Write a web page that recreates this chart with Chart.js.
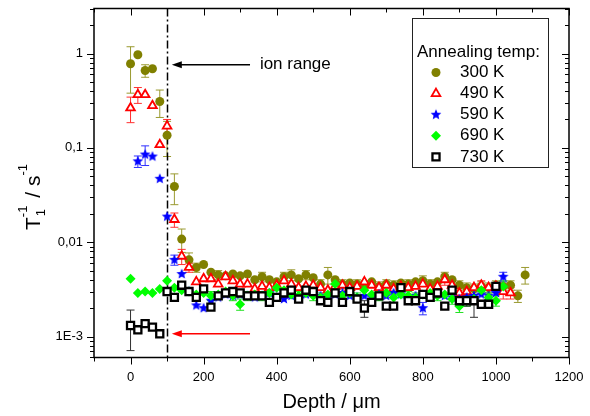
<!DOCTYPE html>
<html>
<head>
<meta charset="utf-8">
<script src="https://cdn.jsdelivr.net/npm/chart.js"></script>
<style>
html, body { margin: 0; padding: 0; background: #fff; }
</style>
</head>
<body>
<canvas id="c" width="590" height="416"></canvas>
<script>
// depth positions (µm), one measurement every 20 µm
const depth = [0,20,40,60,80,100,120,140,160,180,200,220,240,260,280,300,320,340,360,380,
  400,420,440,460,480,500,520,540,560,580,600,620,640,660,680,700,720,740,760,780,
  800,820,840,860,880,900,920,940,960,980,1000,1020,1040,1060,1080];

const seriesNames = ['300 K','490 K','590 K','690 K','730 K'];

// T1^-1 (s^-1) per annealing temperature, null = no point
const t300 = [0.78,0.97,0.66,0.69,0.31,0.136,0.039,0.0108,0.0065,0.0054,0.0058,0.0048,0.0045,0.0044,0.0046,0.0044,0.0046,0.0040,0.0043,0.0040,
  0.0038,0.0043,0.0045,0.0041,0.0045,0.0042,0.0036,0.0045,0.0040,0.0036,0.0037,0.0036,0.0035,0.0038,0.0034,0.0036,0.0035,0.0037,0.0036,0.0038,
  0.0039,0.0036,0.0038,0.0043,0.0040,0.0035,0.0033,0.0032,0.0034,0.0033,0.0035,0.0034,0.0035,0.0027,0.0045];
const e300 = [0.40,0.07,0.10,0.05,0.10,0.055,0.014,0.003,0.0012,0.0006,0.0005,0.0005,0.0005,0.0004,0.0005,0.0004,0.0005,0.0004,0.0005,0.0004,
  0.0004,0.0005,0.0006,0.0004,0.0005,0.0004,0.0004,0.0009,0.0004,0.0004,0.0004,0.0004,0.0004,0.0004,0.0004,0.0004,0.0004,0.0004,0.0004,0.0004,
  0.0005,0.0004,0.0004,0.0005,0.0004,0.0004,0.0004,0.0004,0.0004,0.0004,0.0004,0.0004,0.0004,0.0004,0.0009];

const t490 = [0.265,0.366,0.366,0.28,0.108,0.17,0.0174,0.0071,0.0054,0.0038,0.0041,0.0041,0.0036,0.0043,0.0039,0.0036,0.0036,0.0032,0.0034,0.0033,
  0.0035,0.0039,0.0036,0.0033,0.0034,0.0035,0.0033,0.0031,0.0034,0.0035,0.0033,0.0034,0.0038,0.0035,0.0033,0.0035,0.0032,0.0034,0.0033,0.0034,
  0.0036,0.0032,0.0034,0.0040,0.0035,0.0029,0.0030,0.0033,0.0035,0.0033,0.0034,0.0030,0.0029,null,null];
const e490 = [0.08,0.07,0.03,0.02,0.01,0.03,0.003,0.0013,0.0006,0.0004,0.0004,0.0004,0.0003,0.0004,0.0003,0.0003,0.0003,0.0003,0.0003,0.0003,
  0.0003,0.0004,0.0003,0.0003,0.0003,0.0003,0.0003,0.0003,0.0003,0.0003,0.0003,0.0003,0.0004,0.0003,0.0003,0.0003,0.0003,0.0003,0.0003,0.0003,
  0.0003,0.0003,0.0003,0.0005,0.0003,0.0003,0.0003,0.0003,0.0004,0.0003,0.0003,0.0005,0.0004,null,null];

const t590 = [null,0.072,0.085,0.081,0.047,0.0187,0.0065,0.0046,0.0030,0.00214,0.0020,0.0024,0.0026,0.0028,0.0027,0.0028,0.0027,0.0026,0.0027,0.0029,
  0.0026,0.0025,0.0027,0.0026,0.0028,0.0029,0.0027,0.0026,0.0028,0.0029,0.0027,0.0026,0.0027,0.0026,0.0028,0.0027,0.0029,0.0028,0.0026,0.0027,
  0.0020,0.0027,0.0028,0.0027,0.0026,0.0025,0.0026,0.0027,0.0028,0.0027,0.0029,0.0043,null,null,null];
const e590 = [null,0.01,0.02,0.008,0.004,0.002,0.0008,0.0005,0.0003,0.0002,0.0002,0.0002,0.0002,0.0002,0.0002,0.0002,0.0002,0.0002,0.0002,0.0002,
  0.0002,0.0002,0.0002,0.0002,0.0002,0.0002,0.0002,0.0002,0.0002,0.0002,0.0002,0.0002,0.0002,0.0002,0.0002,0.0002,0.0003,0.0002,0.0002,0.0002,
  0.0003,0.0002,0.0002,0.0002,0.0002,0.0002,0.0002,0.0002,0.0002,0.0002,0.0003,0.0005,null,null,null];

const t690 = [0.0041,0.0029,0.0030,0.0029,0.0032,0.0039,0.0033,0.0031,0.0030,0.0028,0.0029,0.0027,0.0028,0.0030,0.0027,0.0022,0.0027,0.0028,0.0027,0.0029,
  0.0033,0.0031,0.0028,0.0027,0.0029,0.0027,0.0026,0.0028,0.0036,0.0027,0.0029,0.0026,0.0031,0.0028,0.0027,0.0029,0.0026,0.0028,0.0027,0.0026,
  0.0028,0.0029,0.0027,0.0028,0.0025,0.0021,0.0024,0.0025,0.0031,0.0026,0.0024,0.0034,null,null,null];
const e690 = [0.0004,0.0003,0.0003,0.0003,0.0003,0.0003,0.0003,0.0003,0.0003,0.0003,0.0003,0.0003,0.0003,0.0003,0.0003,0.0003,0.0003,0.0003,0.0003,0.0003,
  0.0003,0.0003,0.0003,0.0003,0.0003,0.0003,0.0003,0.0003,0.0003,0.0003,0.0003,0.0003,0.0003,0.0003,0.0003,0.0003,0.0003,0.0003,0.0003,0.0003,
  0.0003,0.0003,0.0003,0.0003,0.0003,0.0003,0.0003,0.0003,0.0003,0.0003,0.0003,0.0005,null,null,null];

const t730 = [0.00131,0.00118,0.00137,0.00126,0.00107,0.0030,0.0026,0.0035,0.0030,0.0026,0.0032,0.00205,0.0027,0.0029,0.0030,0.0029,0.0027,0.0027,0.0027,0.0023,
  0.0026,0.0029,0.0031,0.0025,0.0031,0.0030,0.0024,0.0023,0.0029,0.0023,0.0030,0.0025,0.0020,0.0023,0.0027,0.0021,0.0021,0.0033,0.0024,0.0024,
  0.0028,0.0026,0.0029,0.0021,0.0031,0.0024,0.0024,0.0024,0.0022,0.0022,0.0034,null,null,null,null];
const e730 = [0.0006,0.0001,0.0001,0.0001,0.0001,0.0002,0.0002,0.0002,0.0002,0.0002,0.0002,0.0002,0.0002,0.0002,0.0002,0.0002,0.0002,0.0002,0.0002,0.0002,
  0.0002,0.0002,0.0002,0.0002,0.0002,0.0002,0.0002,0.0002,0.0002,0.0002,0.0002,0.0002,0.0004,0.0002,0.0002,0.0002,0.0002,0.0002,0.0002,0.0002,
  0.0002,0.0002,0.0002,0.0002,0.0002,0.0002,0.0003,0.0008,0.0002,0.0002,0.0003,null,null,null,null];

const xMajorTicks = [0,200,400,600,800,1000,1200];
const xTickLabels = ['0','200','400','600','800','1000','1200'];
const yMajorTicks = [0.001,0.01,0.1,1];
const yTickLabels = ['1E-3','0,01','0,1','1'];

const FONT = '"Liberation Sans", Arial, Helvetica, sans-serif';

function toPoints(vals, errs) {
  const pts = [];
  depth.forEach((d, i) => {
    if (vals[i] != null) pts.push({ x: d, y: vals[i], err: errs[i] || 0 });
  });
  return pts;
}

// filled five pointed star, chart.js 'star' is only an asterisk
function makeStar(color, r) {
  const c = document.createElement('canvas');
  const s = Math.ceil(r * 2) + 2;
  c.width = s; c.height = s;
  const g = c.getContext('2d');
  g.fillStyle = color;
  g.beginPath();
  for (let i = 0; i < 10; i++) {
    const a = -Math.PI / 2 + i * Math.PI / 5;
    const rr = i % 2 ? r * 0.45 : r;
    g.lineTo(s / 2 + rr * Math.cos(a), s / 2 + rr * Math.sin(a));
  }
  g.closePath();
  g.fill();
  return c;
}
const starImg = makeStar('#0000ff', 5.6);

const datasets = [
  { label: seriesNames[0], data: toPoints(t300, e300), pointStyle: 'circle', pointRadius: 4.5,
    backgroundColor: '#808000', borderColor: '#808000', borderWidth: 0, errColor: '#9a9a30', order: 4 },
  { label: seriesNames[1], data: toPoints(t490, e490), pointStyle: 'triangle', pointRadius: 5,
    backgroundColor: '#ffffff', borderColor: '#ff0000', borderWidth: 1.8, errColor: '#ff3030', order: 3 },
  { label: seriesNames[2], data: toPoints(t590, e590), pointStyle: starImg, pointRadius: 5.5,
    backgroundColor: '#0000ff', borderColor: '#0000ff', borderWidth: 0, errColor: '#3030ff', order: 2 },
  { label: seriesNames[3], data: toPoints(t690, e690), pointStyle: 'rectRot', pointRadius: 5,
    backgroundColor: '#00ff00', borderColor: '#00ff00', borderWidth: 0, errColor: '#20e020', order: 1 },
  { label: seriesNames[4], data: toPoints(t730, e730), pointStyle: 'rect', pointRadius: 5,
    backgroundColor: '#ffffff', borderColor: '#000000', borderWidth: 2.3, errColor: '#303030', order: 0 }
];
datasets.forEach(ds => {
  ds.showLine = false;
  ds.pointBorderWidth = ds.borderWidth;
  ds.pointBackgroundColor = ds.backgroundColor;
  ds.pointBorderColor = ds.borderColor;
});

// vertical error bars, under all markers
const errorBars = {
  id: 'errorBars',
  beforeDatasetsDraw(chart) {
    const { ctx, chartArea, scales: { x, y } } = chart;
    ctx.save();
    ctx.beginPath();
    ctx.rect(chartArea.left, chartArea.top, chartArea.right - chartArea.left, chartArea.bottom - chartArea.top);
    ctx.clip();
    const order = chart.data.datasets.map((d, i) => i).sort((a, b) => chart.data.datasets[b].order - chart.data.datasets[a].order);
    order.forEach(i => {
      const ds = chart.data.datasets[i];
      ctx.strokeStyle = ds.errColor;
      ctx.lineWidth = 1;
      ds.data.forEach(p => {
        if (!p.err) return;
        const px = x.getPixelForValue(p.x);
        const yTop = y.getPixelForValue(p.y + p.err);
        const lo = p.y - p.err;
        const yBot = lo > 0 ? y.getPixelForValue(lo) : chartArea.bottom + 5;
        if (yBot - yTop < 9) return;
        ctx.beginPath();
        ctx.moveTo(px, yTop); ctx.lineTo(px, yBot);
        ctx.moveTo(px - 4, yTop); ctx.lineTo(px + 4, yTop);
        ctx.moveTo(px - 4, yBot); ctx.lineTo(px + 4, yBot);
        ctx.stroke();
      });
    });
    // ion range marker line at 100 µm
    const xl = Math.round(x.getPixelForValue(100)) + 0.5;
    ctx.strokeStyle = '#000';
    ctx.lineWidth = 1.5;
    ctx.setLineDash([8, 3, 2, 3]);
    ctx.beginPath();
    ctx.moveTo(xl, chartArea.top); ctx.lineTo(xl, chartArea.bottom);
    ctx.stroke();
    ctx.restore();
  }
};

function arrow(ctx, x0, y0, x1, y1, color) {
  ctx.strokeStyle = color; ctx.fillStyle = color; ctx.lineWidth = 1.5;
  ctx.beginPath(); ctx.moveTo(x0, y0); ctx.lineTo(x1 + 6, y1); ctx.stroke();
  ctx.beginPath();
  ctx.moveTo(x1, y1); ctx.lineTo(x1 + 10, y1 - 3.5); ctx.lineTo(x1 + 10, y1 + 3.5);
  ctx.closePath(); ctx.fill();
}

const frameAndNotes = {
  id: 'frameAndNotes',
  afterDraw(chart) {
    const { ctx, chartArea: a, scales: { x, y } } = chart;
    ctx.save();
    // box
    ctx.strokeStyle = '#000';
    ctx.lineWidth = 1.5;
    ctx.strokeRect(a.left, a.top, a.right - a.left, a.bottom - a.top);
    ctx.lineWidth = 1;
    const tick = (x0, y0, x1, y1) => { ctx.beginPath(); ctx.moveTo(x0, y0); ctx.lineTo(x1, y1); ctx.stroke(); };
    // x ticks, major labelled, minor halfway
    const xs = [];
    xMajorTicks.forEach((v, i) => {
      xs.push([v, 7]);
      if (i > 0) xs.push([(v + xMajorTicks[i - 1]) / 2, 4]);
    });
    xs.push([xMajorTicks[0] - (xMajorTicks[1] - xMajorTicks[0]) / 2, 4]);
    xs.forEach(([v, len]) => {
      const px = Math.round(x.getPixelForValue(v)) + 0.5;
      tick(px, a.bottom, px, a.bottom + len);
      tick(px, a.top, px, a.top + len);
    });
    // y ticks, log decades with minors
    for (let d = -4; d <= 0; d++) {
      for (let k = 1; k <= 9; k++) {
        const v = k * Math.pow(10, d);
        if (v < y.min || v > y.max) continue;
        const len = k === 1 ? 7 : 4;
        const py = Math.round(y.getPixelForValue(v)) + 0.5;
        tick(a.left - len, py, a.left, py);
        tick(a.right - len, py, a.right, py);
      }
    }

    // annotations
    const ay = y.getPixelForValue(0.76);
    arrow(ctx, x.getPixelForValue(327), ay, x.getPixelForValue(113), ay, '#000');
    ctx.fillStyle = '#000';
    ctx.font = '17px ' + FONT;
    ctx.textBaseline = 'middle';
    ctx.textAlign = 'left';
    ctx.fillText('ion range', x.getPixelForValue(354), ay);
    const ry = y.getPixelForValue(0.00107);
    arrow(ctx, x.getPixelForValue(327), ry, x.getPixelForValue(113), ry, '#ff0000');

    // legend
    ctx.strokeStyle = '#222';
    ctx.lineWidth = 1;
    ctx.strokeRect(412.5, 18.5, 136, 149);
    ctx.fillStyle = '#000';
    ctx.font = '17px ' + FONT;
    ctx.fillText('Annealing temp:', 417, 52);
    chart.data.datasets.forEach((ds, i) => {
      const cy = 72.5 + i * 21.1;
      ctx.fillStyle = ds.backgroundColor;
      ctx.strokeStyle = ds.borderColor;
      ctx.lineWidth = ds.borderWidth;
      if (Chart.helpers && Chart.helpers.drawPoint) {
        Chart.helpers.drawPoint(ctx, { pointStyle: ds.pointStyle, radius: ds.pointRadius, borderWidth: ds.borderWidth, rotation: 0 }, 436, cy);
      } else {
        ctx.beginPath(); ctx.arc(436, cy, 4, 0, Math.PI * 2); ctx.fill();
      }
      ctx.fillStyle = '#000';
      ctx.fillText(ds.label, 460, cy);
    });

    // y axis title T1^-1 / s^-1
    ctx.translate(32, 197);
    ctx.rotate(-Math.PI / 2);
    ctx.textBaseline = 'alphabetic';
    const big = '21px ' + FONT, small = '13px ' + FONT;
    ctx.font = big; const wT = ctx.measureText('T').width, wS = ctx.measureText(' / s').width;
    ctx.font = small; const wSup = ctx.measureText('-1').width;
    let tx = -(wT + wSup + 2 + wS + wSup) / 2;
    ctx.font = big; ctx.fillText('T', tx, 8); tx += wT;
    ctx.font = small; ctx.fillText('-1', tx, -5); ctx.fillText('1', tx + 1, 13); tx += wSup + 2;
    ctx.font = big; ctx.fillText(' / s', tx, 8); tx += wS;
    ctx.font = small; ctx.fillText('-1', tx, -5);
    ctx.restore();
  }
};

new Chart(document.getElementById('c'), {
  type: 'scatter',
  data: { datasets: datasets },
  options: {
    responsive: false,
    animation: false,
    devicePixelRatio: 1,
    layout: { padding: { left: 0, right: 21, top: 8.5, bottom: 0 } },
    plugins: { legend: { display: false }, tooltip: { enabled: false } },
    scales: {
      x: {
        type: 'linear', min: -100, max: 1200,
        afterBuildTicks: s => { s.ticks = xMajorTicks.map(v => ({ value: v })); },
        ticks: { callback: (v, i) => xTickLabels[i], font: { size: 13, family: FONT }, color: '#000', padding: 12, maxRotation: 0, autoSkip: false },
        grid: { display: false, drawTicks: false },
        border: { display: false },
        title: { display: true, text: 'Depth / μm', font: { size: 20, family: FONT }, color: '#000', padding: { top: 0, bottom: 2 } },
        afterFit: s => { s.height = 58.5; s.paddingLeft = 0; s.paddingRight = 0; }
      },
      y: {
        type: 'logarithmic', min: 0.0006, max: 3,
        afterBuildTicks: s => { s.ticks = yMajorTicks.map(v => ({ value: v })); },
        ticks: { callback: (v, i) => yTickLabels[i], font: { size: 13, family: FONT }, color: '#000', padding: 11, autoSkip: false },
        grid: { display: false, drawTicks: false },
        border: { display: false },
        afterFit: s => { s.width = 94; s.paddingTop = 0; s.paddingBottom = 0; }
      }
    }
  },
  plugins: [errorBars, frameAndNotes]
});
</script>
</body>
</html>
